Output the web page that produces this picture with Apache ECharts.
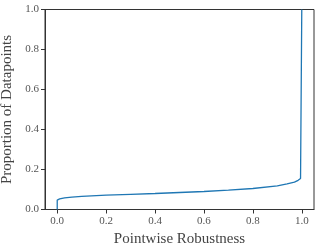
<!DOCTYPE html>
<html>
<head>
<meta charset="utf-8">
<script src="https://cdn.jsdelivr.net/npm/echarts@6/dist/echarts.min.js"></script>
<style>html,body{margin:0;padding:0;background:#fff}#c{width:319px;height:251px}</style>
</head>
<body>
<div id="c"></div>
<script>
const robustness = [0, 0, 0.01, 0.03, 0.06, 0.1, 0.2, 0.3, 0.4, 0.5, 0.6, 0.7, 0.8, 0.9, 0.94, 0.97, 0.985, 0.995, 1.0, 1.0];
const proportion = [0, 0.047, 0.053, 0.058, 0.062, 0.066, 0.072, 0.076, 0.080, 0.085, 0.090, 0.097, 0.105, 0.118, 0.128, 0.137, 0.146, 0.155, 0.162, 1.0];
const xTicks = [0, 0.2, 0.4, 0.6, 0.8, 1.0];
const yTicks = [0, 0.2, 0.4, 0.6, 0.8, 1.0];
const xName = 'Pointwise Robustness';
const yName = 'Proportion of Datapoints';

const font = '"Liberation Serif", "DejaVu Serif", serif';
const chart = echarts.init(document.getElementById('c'), null, {renderer: 'canvas'});
chart.setOption({
  animation: false,
  grid: {left: 45, top: 9.5, right: 5, bottom: 41.5, containLabel: false, outerBoundsMode: 'none',
    show: true, borderColor: '#333', borderWidth: 1},
  xAxis: {
    type: 'value', min: -0.05, max: 1.05,
    name: xName, nameLocation: 'middle', nameGap: 21,
    nameTextStyle: {fontFamily: font, fontSize: 15, color: '#444'},
    axisLine: {show: true, onZero: false, lineStyle: {color: '#333', width: 1}},
    axisTick: {show: true, inside: false, length: 4, lineStyle: {color: '#333'}, customValues: xTicks},
    axisLabel: {fontFamily: font, fontSize: 11, color: '#555', margin: 6, customValues: xTicks,
      formatter: v => v.toFixed(1)},
    splitLine: {show: false}
  },
  yAxis: {
    type: 'value', min: 0, max: 1, interval: 0.2,
    name: yName, nameLocation: 'middle', nameGap: 24,
    nameTextStyle: {fontFamily: font, fontSize: 15, color: '#444'},
    axisLine: {show: true, onZero: false, lineStyle: {color: '#333', width: 1}},
    axisTick: {show: true, inside: false, length: 4, lineStyle: {color: '#333'}, customValues: yTicks},
    axisLabel: {fontFamily: font, fontSize: 11, color: '#555', margin: 6, customValues: yTicks,
      formatter: v => v.toFixed(1)},
    splitLine: {show: false}
  },
  series: [{
    type: 'line',
    data: robustness.map((x, i) => [x, proportion[i]]),
    showSymbol: false,
    smooth: false,
    lineStyle: {color: '#1f77b4', width: 1.3}
  }]
});
</script>
</body>
</html>
